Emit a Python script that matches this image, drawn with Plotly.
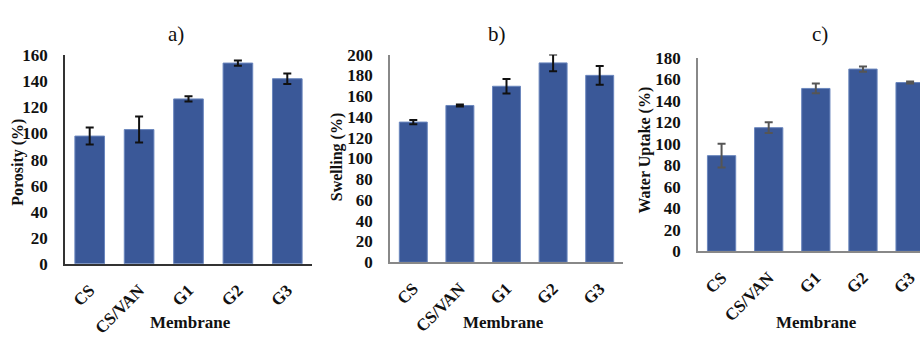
import plotly.graph_objects as go

categories = ["CS", "CS/VAN", "G1", "G2", "G3"]
porosity = [98, 103, 126.5, 154, 142]
porosity_err = [6.5, 10, 2, 2, 4]
swelling = [135, 151, 169.5, 192, 180]
swelling_err = [2, 1, 7, 8, 9]
uptake = [89, 115, 151.5, 169.5, 157]
uptake_err = [11, 5, 4.5, 2.5, 1]

W, H = 920, 339
BAR = "#3A5898"
EDGE = "#6A86BD"
FONT = "Liberation Serif, Times New Roman, serif"


def px(x):
    return x / W


def py(y):
    return 1 - y / H


fig = go.Figure()

panels = [
    dict(vals=porosity, err=porosity_err, ax="", errc="#111111",
         xd=[px(65), px(312)], yd=[py(270), py(49)], yr=[0, 160], dt=20,
         xr=[-0.5, 4.5], line="#333333", title="Porosity (%)",
         tx=18, ty=163, lab="a)", lx=176, ly=26, mx=190),
    dict(vals=swelling, err=swelling_err, ax="2", errc="#111111",
         xd=[px(390), px(623)], yd=[py(268.3), py(48.3)], yr=[0, 200], dt=20,
         xr=[-0.5, 4.5], line="#888888", title="Swelling (%)",
         tx=337, ty=157, lab="b)", lx=497, ly=26, mx=503),
    dict(vals=uptake, err=uptake_err, ax="3", errc="#555555",
         xd=[px(698), 1.0], yd=[py(256.7), py(51.7)], yr=[0, 180], dt=20,
         xr=[-0.5, 4.21], line="#888888", title="Water Uptake (%)",
         tx=645, ty=150, lab="c)", lx=820, ly=26, mx=816),
]

annotations = []
for p in panels:
    ax = p["ax"]
    fig.add_trace(go.Bar(
        x=categories, y=p["vals"],
        xaxis="x" + ax, yaxis="y" + ax,
        marker=dict(color=BAR, line=dict(color=EDGE, width=1)),
        error_y=dict(type="data", array=p["err"], color=p["errc"],
                     thickness=2, width=4),
        showlegend=False,
    ))
    fig.layout["xaxis" + ax] = dict(
        domain=p["xd"], anchor="y" + ax, range=p["xr"],
        showline=True, linecolor=p["line"], linewidth=1.5,
        ticks="", tickangle=-45, showgrid=False, zeroline=False,
        ticklabelstandoff=8,
        tickfont=dict(family=FONT, size=17, color="#111111", weight="bold"),
    )
    fig.layout["yaxis" + ax] = dict(
        domain=p["yd"], anchor="x" + ax, range=p["yr"], dtick=p["dt"],
        showline=True, linecolor=p["line"], linewidth=1.5,
        ticks="", showgrid=False, zeroline=False, ticklabelstandoff=12,
        tickfont=dict(family=FONT, size=17, color="#111111", weight="bold"),
    )
    annotations.append(dict(
        text="<b>" + p["title"] + "</b>", textangle=-90,
        x=px(p["tx"]), y=py(p["ty"]), xref="paper", yref="paper",
        showarrow=False, xanchor="center", yanchor="middle",
        font=dict(family=FONT, size=16, color="#111111"),
    ))
    annotations.append(dict(
        text=p["lab"], x=px(p["lx"]), y=py(p["ly"]),
        xref="paper", yref="paper", showarrow=False,
        xanchor="center", yanchor="middle",
        font=dict(family=FONT, size=21, color="#111111"),
    ))
    annotations.append(dict(
        text="<b>Membrane</b>", x=px(p["mx"]), y=py(332),
        xref="paper", yref="paper", showarrow=False,
        xanchor="center", yanchor="middle",
        font=dict(family=FONT, size=17, color="#111111"),
    ))

fig.update_layout(
    width=W, height=H,
    margin=dict(l=0, r=0, t=0, b=0),
    paper_bgcolor="white", plot_bgcolor="white",
    bargap=0.4,
    annotations=annotations,
)

fig.write_html("out.html")
